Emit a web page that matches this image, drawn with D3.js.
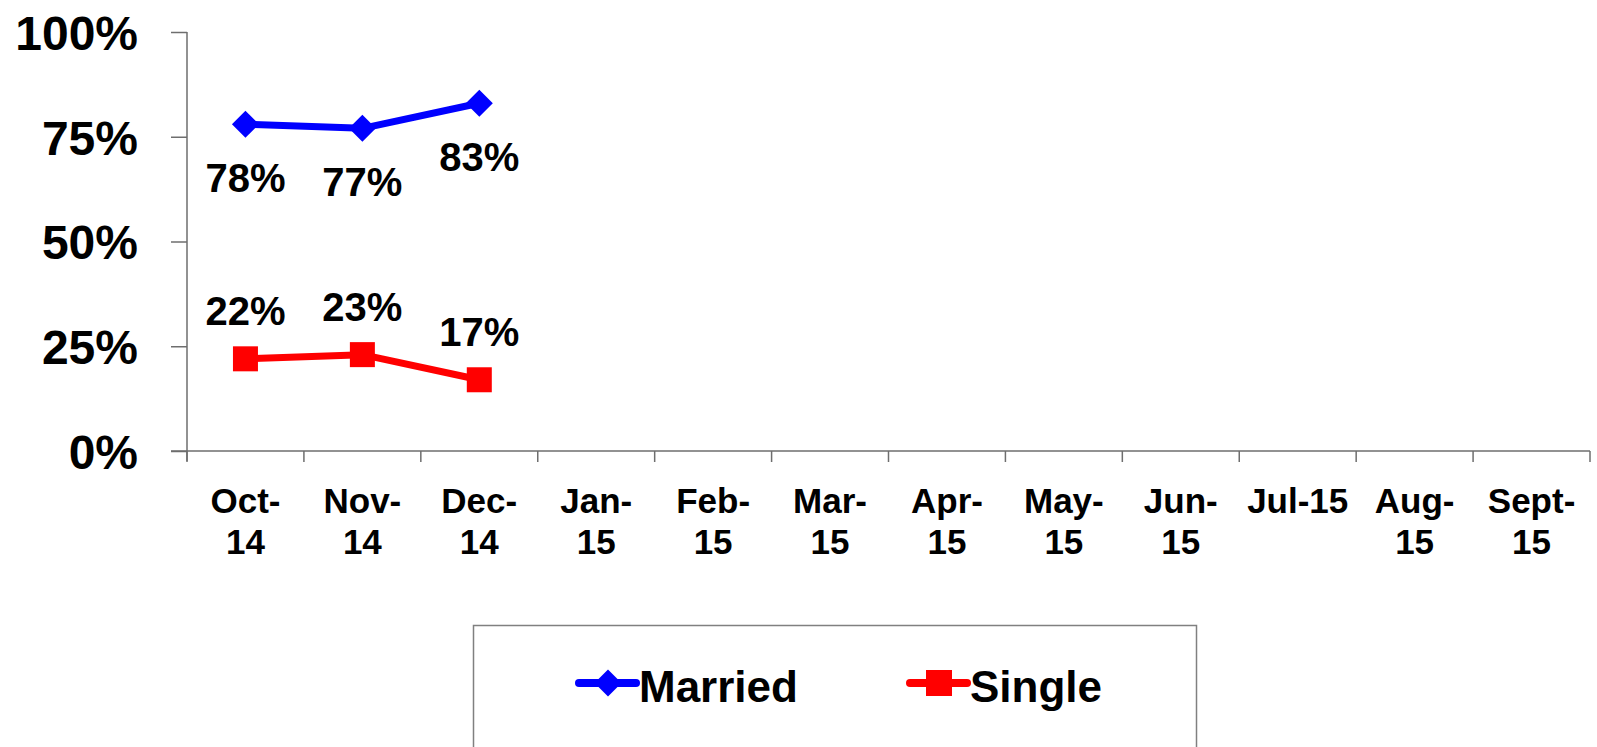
<!DOCTYPE html>
<html>
<head>
<meta charset="utf-8">
<script src="https://cdn.jsdelivr.net/npm/d3@7"></script>
<style>
  body { margin: 0; background: #fff; }
  svg { display: block; font-family: "Century Gothic", "Liberation Sans", Arial, sans-serif; font-weight: bold; }
</style>
</head>
<body>
<svg></svg>
<script>
// Data: share of married vs single respondents by month
const months = ["Oct-14", "Nov-14", "Dec-14", "Jan-15", "Feb-15", "Mar-15",
                "Apr-15", "May-15", "Jun-15", "Jul-15", "Aug-15", "Sept-15"];
const tickLines = [["Oct-", "14"], ["Nov-", "14"], ["Dec-", "14"], ["Jan-", "15"], ["Feb-", "15"], ["Mar-", "15"],
                   ["Apr-", "15"], ["May-", "15"], ["Jun-", "15"], ["Jul-15"], ["Aug-", "15"], ["Sept-", "15"]];
const married = [78, 77, 83];
const single = [22, 23, 17];
const yTicks = [0, 25, 50, 75, 100];

const W = 1597, H = 747;
const svg = d3.select("svg").attr("width", W).attr("height", H);

// Scales
const x = d3.scaleBand().domain(months).range([187, 1590]);
const y = d3.scaleLinear().domain([0, 100]).range([451, 32]);
const cx = m => x(m) + x.bandwidth() / 2;

const axisColor = "#6e6e6e";

// Y-axis
const yAxis = svg.append("g")
    .attr("transform", "translate(187,0)")
    .call(d3.axisLeft(y).tickValues(yTicks).tickSize(16).tickFormat(d => d + "%"));
yAxis.select(".domain").attr("stroke", axisColor).attr("stroke-width", 1.5)
    .attr("d", "M0,32V461");
yAxis.selectAll(".tick line").attr("stroke", axisColor).attr("stroke-width", 1.5);
yAxis.selectAll(".tick text")
    .attr("x", -49)
    .attr("dy", "0.36em")
    .attr("fill", "#000")
    .style("font-size", "48px")
    .attr("font-family", null);

// X-axis
const xAxis = svg.append("g")
    .attr("transform", `translate(0,${y(0)})`)
    .call(d3.axisBottom(x).tickSize(11).tickFormat(""));
xAxis.select(".domain").attr("stroke", axisColor).attr("stroke-width", 1.5)
    .attr("d", "M171,0H1590");
xAxis.selectAll(".tick line").attr("stroke", axisColor).attr("stroke-width", 1.5)
    .attr("transform", `translate(${-x.bandwidth() / 2},0)`);
// extra tick at the right end
xAxis.append("line").attr("x1", 1590).attr("x2", 1590).attr("y1", 0).attr("y2", 11)
    .attr("stroke", axisColor).attr("stroke-width", 1.5);

// X labels (wrapped in two lines like the original)
const xl = svg.append("g").attr("class", "x-labels");
months.forEach((m, i) => {
    const t = xl.append("text")
        .attr("x", cx(m))
        .attr("y", 513)
        .attr("text-anchor", "middle")
        .style("font-size", "35px")
        .attr("fill", "#000");
    tickLines[i].forEach((ln, j) => {
        t.append("tspan").attr("x", cx(m)).attr("dy", j === 0 ? 0 : 41).text(ln);
    });
});

// Lines
const line = d3.line().x((d, i) => cx(months[i])).y(d => y(d));

svg.append("path").datum(married)
    .attr("d", line).attr("fill", "none")
    .attr("stroke", "#0000ff").attr("stroke-width", 7).attr("stroke-linejoin", "round");
svg.append("path").datum(single)
    .attr("d", line).attr("fill", "none")
    .attr("stroke", "#ff0000").attr("stroke-width", 7).attr("stroke-linejoin", "round");

// Markers
const diamond = s => `M0,${-s}L${s},0L0,${s}L${-s},0Z`;
svg.selectAll(".m-married").data(married).enter().append("path")
    .attr("class", "m-married")
    .attr("transform", (d, i) => `translate(${cx(months[i])},${y(d)})`)
    .attr("d", diamond(13.5)).attr("fill", "#0000ff");
svg.selectAll(".m-single").data(single).enter().append("rect")
    .attr("class", "m-single")
    .attr("x", (d, i) => cx(months[i]) - 12.5).attr("y", d => y(d) - 12.5)
    .attr("width", 25).attr("height", 25).attr("fill", "#ff0000");

// Data labels
svg.selectAll(".l-married").data(married).enter().append("text")
    .attr("x", (d, i) => cx(months[i]))
    .attr("y", d => y(d) + 68)
    .attr("text-anchor", "middle").style("font-size", "40px").attr("fill", "#000")
    .text(d => d + "%");
svg.selectAll(".l-single").data(single).enter().append("text")
    .attr("x", (d, i) => cx(months[i]))
    .attr("y", d => y(d) - 34)
    .attr("text-anchor", "middle").style("font-size", "40px").attr("fill", "#000")
    .text(d => d + "%");

// Legend
const legend = svg.append("g");
legend.append("rect").attr("x", 473.5).attr("y", 625.5).attr("width", 723).attr("height", 140)
    .attr("fill", "#fff").attr("stroke", "#808080").attr("stroke-width", 1.5);

const items = [
    { name: "Married", color: "#0000ff", x0: 579, shape: "diamond" },
    { name: "Single", color: "#ff0000", x0: 910, shape: "square" }
];
items.forEach(it => {
    const g = legend.append("g").attr("transform", `translate(${it.x0},683)`);
    g.append("line").attr("x1", 0).attr("x2", 57).attr("y1", 0).attr("y2", 0)
        .attr("stroke", it.color).attr("stroke-width", 8).attr("stroke-linecap", "round");
    if (it.shape === "diamond") {
        g.append("path").attr("transform", "translate(29,0)").attr("d", diamond(13.5)).attr("fill", it.color);
    } else {
        g.append("rect").attr("x", 16).attr("y", -13).attr("width", 26).attr("height", 26).attr("fill", it.color);
    }
    g.append("text").attr("x", 60).attr("y", 19).style("font-size", "44px").attr("fill", "#000").text(it.name);
});
</script>
</body>
</html>
